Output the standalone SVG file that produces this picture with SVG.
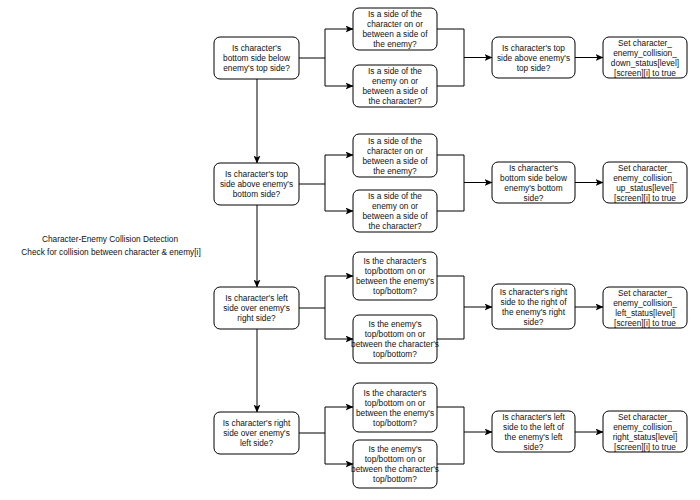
<svg xmlns="http://www.w3.org/2000/svg" width="700" height="500" viewBox="0 0 700 500">
<defs>
<marker id="arr" markerUnits="userSpaceOnUse" markerWidth="8" markerHeight="7" refX="7.5" refY="3.5" orient="auto">
<path d="M0,0 L8,3.5 L0,7 L2,3.5 z" fill="#000"/>
</marker>
<style>
.n{fill:#fff;stroke:#000;stroke-width:1}
.t{font-family:"Liberation Sans",Helvetica,Arial,sans-serif;font-size:8.3px;text-anchor:middle;fill:#111}
.c{fill:none;stroke:#000;stroke-width:1}
.a{marker-end:url(#arr)}
</style>
</defs>
<rect width="700" height="500" fill="#fff"/>
<g id="title" class="t">
<text x="110" y="242">Character-Enemy Collision Detection</text>
<text x="111" y="255">Check for collision between character &amp; enemy[i]</text>
</g>
<g id="connectors">
<!-- vertical chain -->
<path class="c a" d="M257,79 V163"/>
<path class="c a" d="M257,205 V287"/>
<path class="c a" d="M257,329 V412"/>
<!-- row 1 -->
<path class="c a" d="M299,58 H325 V29 H353"/>
<path class="c a" d="M325,58 V86 H353"/>
<path class="c" d="M437,29 H464 V86 H437"/>
<path class="c a" d="M464,57.5 H492"/>
<path class="c a" d="M575,57.5 H603"/>
<!-- row 2 -->
<path class="c a" d="M299,184 H325 V155 H353"/>
<path class="c a" d="M325,184 V211 H353"/>
<path class="c" d="M437,155 H464 V211 H437"/>
<path class="c a" d="M464,182.5 H492"/>
<path class="c a" d="M575,182.5 H603"/>
<!-- row 3 -->
<path class="c a" d="M299,308 H325 V276 H353"/>
<path class="c a" d="M325,308 V339 H353"/>
<path class="c" d="M437,276 H464 V339 H437"/>
<path class="c a" d="M464,307 H492"/>
<path class="c a" d="M575,307 H603"/>
<!-- row 4 -->
<path class="c a" d="M299,433 H325 V407 H353"/>
<path class="c a" d="M325,433 V464 H353"/>
<path class="c" d="M437,407 H464 V464 H437"/>
<path class="c a" d="M464,432 H492"/>
<path class="c a" d="M575,432 H603"/>
</g>
<!-- row 1 -->
<g id="r1-left"><rect class="n" x="214" y="37" width="85" height="42" rx="6"/>
<text class="t"><tspan x="256.5" y="51">Is character's</tspan><tspan x="256.5" y="61">bottom side below</tspan><tspan x="256.5" y="71">enemy's top side?</tspan></text></g>
<g id="r1-m1"><rect class="n" x="353" y="8" width="84" height="42" rx="6"/>
<text class="t"><tspan x="395" y="17">Is a side of the</tspan><tspan x="395" y="27">character on or</tspan><tspan x="395" y="37">between a side of</tspan><tspan x="395" y="47">the enemy?</tspan></text></g>
<g id="r1-m2"><rect class="n" x="353" y="65" width="84" height="42" rx="6"/>
<text class="t"><tspan x="395" y="74">Is a side of the</tspan><tspan x="395" y="84">enemy on or</tspan><tspan x="395" y="94">between a side of</tspan><tspan x="395" y="104">the character?</tspan></text></g>
<g id="r1-check"><rect class="n" x="492" y="37" width="83" height="41" rx="6"/>
<text class="t"><tspan x="533.5" y="50.5">Is character's top</tspan><tspan x="533.5" y="60.5">side above enemy's</tspan><tspan x="533.5" y="70.5">top side?</tspan></text></g>
<g id="r1-set"><rect class="n" x="603" y="37" width="84" height="41" rx="6"/>
<text class="t"><tspan x="645" y="45.5">Set character_</tspan><tspan x="645" y="55.5">enemy_collision_</tspan><tspan x="645" y="65.5">down_status[level]</tspan><tspan x="645" y="75.5">[screen][i] to true</tspan></text></g>
<!-- row 2 -->
<g id="r2-left"><rect class="n" x="214" y="163" width="85" height="42" rx="6"/>
<text class="t"><tspan x="256.5" y="177">Is character's top</tspan><tspan x="256.5" y="187">side above enemy's</tspan><tspan x="256.5" y="197">bottom side?</tspan></text></g>
<g id="r2-m1"><rect class="n" x="353" y="134" width="84" height="43" rx="6"/>
<text class="t"><tspan x="395" y="143.5">Is a side of the</tspan><tspan x="395" y="153.5">character on or</tspan><tspan x="395" y="163.5">between a side of</tspan><tspan x="395" y="173.5">the enemy?</tspan></text></g>
<g id="r2-m2"><rect class="n" x="353" y="190" width="84" height="42" rx="6"/>
<text class="t"><tspan x="395" y="199">Is a side of the</tspan><tspan x="395" y="209">enemy on or</tspan><tspan x="395" y="219">between a side of</tspan><tspan x="395" y="229">the character?</tspan></text></g>
<g id="r2-check"><rect class="n" x="492" y="162" width="83" height="41" rx="6"/>
<text class="t"><tspan x="533.5" y="170.5">Is character's</tspan><tspan x="533.5" y="180.5">bottom side below</tspan><tspan x="533.5" y="190.5">enemy's bottom</tspan><tspan x="533.5" y="200.5">side?</tspan></text></g>
<g id="r2-set"><rect class="n" x="603" y="162" width="84" height="41" rx="6"/>
<text class="t"><tspan x="645" y="170.5">Set character_</tspan><tspan x="645" y="180.5">enemy_collision_</tspan><tspan x="645" y="190.5">up_status[level]</tspan><tspan x="645" y="200.5">[screen][i] to true</tspan></text></g>
<!-- row 3 -->
<g id="r3-left"><rect class="n" x="214" y="287" width="85" height="42" rx="6"/>
<text class="t"><tspan x="256.5" y="301">Is character's left</tspan><tspan x="256.5" y="311">side over enemy's</tspan><tspan x="256.5" y="321">right side?</tspan></text></g>
<g id="r3-m1"><rect class="n" x="353" y="252" width="84" height="48" rx="6"/>
<text class="t"><tspan x="395" y="264">Is the character's</tspan><tspan x="395" y="274">top/bottom on or</tspan><tspan x="395" y="284">between the enemy's</tspan><tspan x="395" y="294">top/bottom?</tspan></text></g>
<g id="r3-m2"><rect class="n" x="353" y="315" width="84" height="48" rx="6"/>
<text class="t"><tspan x="395" y="327">Is the enemy's</tspan><tspan x="395" y="337">top/bottom on or</tspan><tspan x="395" y="347">between the character's</tspan><tspan x="395" y="357">top/bottom?</tspan></text></g>
<g id="r3-check"><rect class="n" x="492" y="284" width="83" height="45" rx="6"/>
<text class="t"><tspan x="533.5" y="294.5">Is character's right</tspan><tspan x="533.5" y="304.5">side to the right of</tspan><tspan x="533.5" y="314.5">the enemy's right</tspan><tspan x="533.5" y="324.5">side?</tspan></text></g>
<g id="r3-set"><rect class="n" x="603" y="287" width="84" height="41" rx="6"/>
<text class="t"><tspan x="645" y="295.5">Set character_</tspan><tspan x="645" y="305.5">enemy_collision_</tspan><tspan x="645" y="315.5">left_status[level]</tspan><tspan x="645" y="325.5">[screen][i] to true</tspan></text></g>
<!-- row 4 -->
<g id="r4-left"><rect class="n" x="214" y="412" width="85" height="42" rx="6"/>
<text class="t"><tspan x="256.5" y="426">Is character's right</tspan><tspan x="256.5" y="436">side over enemy's</tspan><tspan x="256.5" y="446">left side?</tspan></text></g>
<g id="r4-m1"><rect class="n" x="353" y="383" width="84" height="49" rx="6"/>
<text class="t"><tspan x="395" y="395.5">Is the character's</tspan><tspan x="395" y="405.5">top/bottom on or</tspan><tspan x="395" y="415.5">between the enemy's</tspan><tspan x="395" y="425.5">top/bottom?</tspan></text></g>
<g id="r4-m2"><rect class="n" x="353" y="440" width="84" height="48" rx="6"/>
<text class="t"><tspan x="395" y="452">Is the enemy's</tspan><tspan x="395" y="462">top/bottom on or</tspan><tspan x="395" y="472">between the character's</tspan><tspan x="395" y="482">top/bottom?</tspan></text></g>
<g id="r4-check"><rect class="n" x="492" y="411" width="83" height="41" rx="6"/>
<text class="t"><tspan x="533.5" y="419.5">Is character's left</tspan><tspan x="533.5" y="429.5">side to the left of</tspan><tspan x="533.5" y="439.5">the enemy's left</tspan><tspan x="533.5" y="449.5">side?</tspan></text></g>
<g id="r4-set"><rect class="n" x="603" y="411" width="84" height="41" rx="6"/>
<text class="t"><tspan x="645" y="419.5">Set character_</tspan><tspan x="645" y="429.5">enemy_collision_</tspan><tspan x="645" y="439.5">right_status[level]</tspan><tspan x="645" y="449.5">[screen][i] to true</tspan></text></g>
</svg>
